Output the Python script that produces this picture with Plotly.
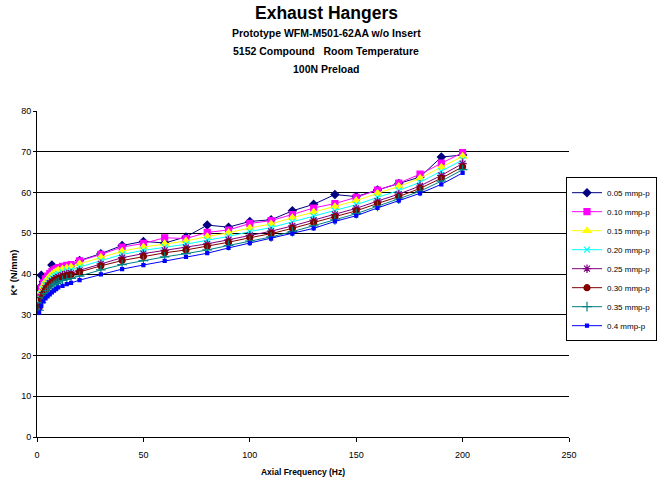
import plotly.graph_objects as go

freq = [1, 2, 3, 4, 5, 6, 7, 8, 9, 10, 12, 14, 16, 20, 30, 40, 50, 60, 70, 80,
        90, 100, 110, 120, 130, 140, 150, 160, 170, 180, 190, 200]

k_005 = [36.5, 39.7, 38.1, 38.6, 39.2, 39.8, 42.2, 40.6, 40.9, 41.2, 41.5, 41.8, 42.0, 43.3,
         45.0, 47.0, 48.0, 47.6, 49.1, 52.0, 51.5, 52.9, 53.3, 55.5, 57.1, 59.5, 59.0, 60.6,
         62.2, 63.8, 68.7, 69.2]
k_010 = [34.5, 36.5, 37.8, 38.8, 39.5, 40.1, 40.6, 41.0, 41.3, 41.6, 41.9, 42.1, 42.3, 43.2,
         44.8, 46.6, 47.5, 48.9, 48.7, 50.2, 50.8, 52.4, 53.1, 54.6, 56.2, 57.3, 58.8, 60.6,
         62.3, 64.5, 67.2, 69.8]
k_015 = [33.8, 35.8, 37.1, 38.1, 38.8, 39.4, 39.9, 40.3, 40.6, 40.9, 41.2, 41.5, 41.7, 42.5,
         44.1, 45.6, 46.6, 47.4, 48.1, 49.2, 50.1, 51.3, 52.3, 53.8, 55.2, 56.5, 58.0, 59.8,
         61.5, 63.5, 66.2, 68.9]
k_020 = [33.0, 35.0, 36.3, 37.3, 38.0, 38.6, 39.1, 39.5, 39.8, 40.1, 40.5, 40.8, 41.0, 41.7,
         43.3, 44.8, 45.8, 46.6, 47.3, 48.3, 49.2, 50.4, 51.4, 52.8, 54.2, 55.5, 57.0, 58.8,
         60.5, 62.5, 65.2, 68.0]
k_025 = [32.3, 34.2, 35.5, 36.5, 37.2, 37.8, 38.3, 38.7, 39.0, 39.3, 39.7, 40.0, 40.2, 40.9,
         42.5, 44.0, 45.0, 45.8, 46.5, 47.4, 48.4, 49.5, 50.5, 51.8, 53.2, 54.6, 56.1, 57.9,
         59.6, 61.6, 64.2, 67.1]
k_030 = [31.8, 33.8, 35.1, 36.1, 36.8, 37.4, 37.9, 38.3, 38.6, 38.9, 39.3, 39.6, 39.8, 40.5,
         42.0, 43.3, 44.3, 45.2, 45.9, 46.8, 47.8, 48.9, 49.9, 51.2, 52.6, 54.0, 55.5, 57.3,
         59.0, 61.0, 63.5, 66.3]
k_035 = [31.1, 33.0, 34.3, 35.2, 35.9, 36.5, 37.0, 37.4, 37.7, 38.0, 38.4, 38.7, 38.9, 39.5,
         41.0, 42.3, 43.3, 44.2, 45.0, 45.9, 47.0, 48.1, 49.1, 50.4, 51.8, 53.3, 54.8, 56.6,
         58.4, 60.3, 62.8, 65.6]
k_040 = [30.5, 32.2, 33.3, 34.0, 34.5, 35.0, 35.5, 35.9, 36.3, 36.7, 37.1, 37.5, 37.8, 38.5,
         39.9, 41.2, 42.2, 43.2, 44.2, 45.1, 46.4, 47.6, 48.7, 49.9, 51.2, 52.9, 54.3, 56.2,
         58.0, 59.8, 62.0, 64.8]

series_names = ["0.05 mmp-p", "0.10 mmp-p", "0.15 mmp-p", "0.20 mmp-p",
                "0.25 mmp-p", "0.30 mmp-p", "0.35 mmp-p", "0.4 mmp-p"]
series_values = [k_005, k_010, k_015, k_020, k_025, k_030, k_035, k_040]

styles = [
    dict(color="#000080", symbol="diamond", size=6),
    dict(color="#FF00FF", symbol="square", size=6),
    dict(color="#FFFF00", symbol="triangle-up", size=7),
    dict(color="#00FFFF", symbol="x-thin-open", size=6),
    dict(color="#800080", symbol="asterisk-open", size=7),
    dict(color="#800000", symbol="circle", size=6),
    dict(color="#008080", symbol="cross-thin-open", size=7),
    dict(color="#0000FF", symbol="square", size=3),
]

FONT = "Liberation Sans, Arial, sans-serif"

fig = go.Figure()
for name, vals, st in zip(series_names, series_values, styles):
    fig.add_trace(go.Scatter(
        x=freq, y=vals, name=name, mode="lines+markers",
        line=dict(color=st["color"], width=1),
        marker=dict(symbol=st["symbol"], size=st["size"], color=st["color"],
                    line=dict(color=st["color"], width=1.2)),
    ))

fig.update_layout(
    width=658, height=480,
    margin=dict(l=37, r=89, t=111, b=43, autoexpand=False),
    paper_bgcolor="white", plot_bgcolor="white",
    font=dict(family=FONT, size=9, color="black"),
    showlegend=True,
    legend=dict(x=(657 - 37) / 532, y=0.797, xanchor="right", yanchor="top",
                bordercolor="black", borderwidth=1, bgcolor="white",
                font=dict(size=8, family=FONT), itemwidth=30),
    xaxis=dict(range=[0, 250], tickvals=[0, 50, 100, 150, 200, 250],
               showgrid=False, zeroline=False, showline=True, linecolor="black",
               linewidth=1, ticks="outside", ticklen=4, tickcolor="black",
               tickfont=dict(size=9), ticklabelstandoff=5,
               title=dict(text="<b>Axial Frequency (Hz)</b>", font=dict(size=8.5), standoff=10)),
    yaxis=dict(range=[0, 80], tickvals=[0, 10, 20, 30, 40, 50, 60, 70, 80],
               showgrid=True, gridcolor="black", gridwidth=1, zeroline=False,
               showline=True, linecolor="black", linewidth=1,
               ticks="outside", ticklen=3, tickcolor="black", tickfont=dict(size=9),
               ticklabelstandoff=0),
)

fig.add_annotation(text="<b>K* (N/mm)</b>", xref="paper", yref="paper",
                   x=(12.5 - 37) / 532, y=(437 - 273) / 326, textangle=-90,
                   xanchor="center", yanchor="middle", showarrow=False,
                   font=dict(size=9.5, family=FONT))

titles = [
    ("<b>Exhaust Hangers</b>", 17.5, 13),
    ("<b>Prototype WFM-M501-62AA w/o Insert</b>", 10.5, 33),
    ("<b>5152 Compound   Room Temperature</b>", 10.5, 51),
    ("<b>100N Preload</b>", 10.5, 69),
]
for txt, sz, ypx in titles:
    fig.add_annotation(text=txt, xref="paper", yref="paper",
                       x=(326 - 37) / 532, y=1 + (111 - ypx) / 326,
                       xanchor="center", yanchor="middle", showarrow=False,
                       font=dict(size=sz, family=FONT))

fig.write_html("out.html")
